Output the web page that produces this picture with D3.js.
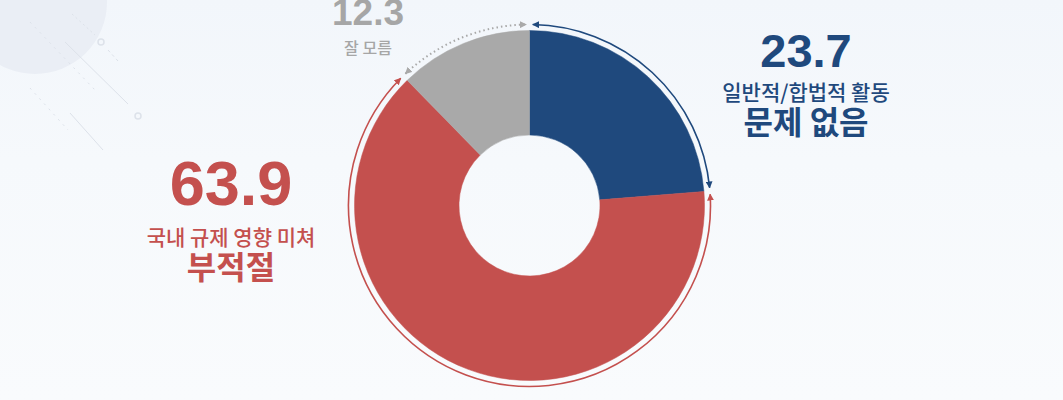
<!DOCTYPE html>
<html>
<head>
<meta charset="utf-8">
<script src="https://cdn.jsdelivr.net/npm/d3@7"></script>
<style>
  body { margin: 0; background: #f6f9fc; }
  svg { display: block; }
</style>
</head>
<body>
<svg id="chart" width="1063" height="400"></svg>
<script>
const categories = ["일반적/합법적 활동 문제 없음", "국내 규제 영향 미쳐 부적절", "잘 모름"];
const values = [23.7, 63.9, 12.3];
const colors = ["#1f497d", "#c4504e", "#a9a9a9"];

const svg = d3.select("#chart");
const width = 1063, height = 400;
const cx = 529.5, cy = 205.5;
const outerR = 175, innerR = 70.5, guideR = 181;

// background
const defs = svg.append("defs");
const bg = defs.append("linearGradient").attr("id", "bg").attr("x1", 0).attr("y1", 0).attr("x2", 0).attr("y2", 1);
bg.append("stop").attr("offset", "0%").attr("stop-color", "#f2f6fb");
bg.append("stop").attr("offset", "40%").attr("stop-color", "#f6f9fc");
bg.append("stop").attr("offset", "100%").attr("stop-color", "#f9fbfd");
svg.append("rect").attr("width", width).attr("height", height).attr("fill", "url(#bg)");

// decoration top-left
const deco = svg.append("g").attr("fill", "none").attr("stroke", "#dde2ea");
deco.append("circle").attr("cx", 35).attr("cy", 2).attr("r", 72).attr("fill", "#eaeef5").attr("stroke", "none");
deco.append("line").attr("x1", 65).attr("y1", 42).attr("x2", 128).attr("y2", 104).attr("stroke-width", 1);
deco.append("line").attr("x1", 72).attr("y1", 14).attr("x2", 95).attr("y2", 35).attr("stroke-dasharray", "2 3");
deco.append("line").attr("x1", 30).attr("y1", 22).attr("x2", 95).attr("y2", 90).attr("stroke-dasharray", "2 5");
deco.append("line").attr("x1", 108).attr("y1", 50).attr("x2", 118).attr("y2", 61).attr("stroke-dasharray", "3 3");
deco.append("line").attr("x1", 30).attr("y1", 88).attr("x2", 68).attr("y2", 130).attr("stroke-dasharray", "2 5");
deco.append("line").attr("x1", 70).attr("y1", 113).attr("x2", 103).attr("y2", 150).attr("stroke-width", 1);
deco.append("circle").attr("cx", 101).attr("cy", 42).attr("r", 3).attr("stroke-width", 1.5);
deco.append("circle").attr("cx", 138).attr("cy", 116).attr("r", 3).attr("stroke-width", 1.5);

// donut
const pie = d3.pie().sort(null).value(d => d);
const arcs = pie(values);
const arc = d3.arc().innerRadius(innerR).outerRadius(outerR);

const g = svg.append("g").attr("transform", `translate(${cx},${cy})`);
g.selectAll("path.slice")
  .data(arcs)
  .enter()
  .append("path")
  .attr("class", "slice")
  .attr("d", arc)
  .attr("fill", (d, i) => colors[i])
  .attr("stroke", (d, i) => colors[i])
  .attr("stroke-width", 0.5);

// arrow markers
colors.forEach(function (c, i) {
  defs.append("marker")
    .attr("id", "arrow" + i)
    .attr("viewBox", "0 0 10 10")
    .attr("refX", 9)
    .attr("refY", 5)
    .attr("markerWidth", 7)
    .attr("markerHeight", 7)
    .attr("markerUnits", "userSpaceOnUse")
    .attr("orient", "auto-start-reverse")
    .append("path")
    .attr("d", "M0,0L10,5L0,10Z")
    .attr("fill", c);
});

// guide arcs around the donut
const gap = 0.018;
function guidePath(d) {
  const p = d3.path();
  p.arc(0, 0, guideR, d.startAngle + gap - Math.PI / 2, d.endAngle - gap - Math.PI / 2);
  return p.toString();
}
g.selectAll("path.guide")
  .data(arcs)
  .enter()
  .append("path")
  .attr("class", "guide")
  .attr("d", guidePath)
  .attr("fill", "none")
  .attr("stroke", (d, i) => colors[i])
  .attr("stroke-width", (d, i) => i === 2 ? 2 : 1.6)
  .attr("stroke-dasharray", (d, i) => i === 2 ? "1.5 3" : null)
  .attr("marker-start", (d, i) => `url(#arrow${i})`)
  .attr("marker-end", (d, i) => `url(#arrow${i})`);

// labels
const numFont = "'Liberation Sans', Arial, 'Noto Sans CJK KR', sans-serif";
const krFont = "'Noto Sans CJK KR', 'Noto Sans', sans-serif";

const labels = [
  { x: 231, lines: [
    { t: values[1].toFixed(1), y: 205, size: 63, w: 700, f: numFont },
    { t: "국내 규제 영향 미쳐", y: 245, size: 21, w: 500, f: krFont },
    { t: "부적절", y: 279, size: 32, w: 700, f: krFont }
  ], color: colors[1] },
  { x: 806, lines: [
    { t: values[0].toFixed(1), y: 67, size: 47, w: 700, f: numFont },
    { t: "일반적/합법적 활동", y: 100, size: 21, w: 500, f: krFont },
    { t: "문제 없음", y: 134, size: 32, w: 700, f: krFont }
  ], color: colors[0] },
  { x: 368, lines: [
    { t: values[2].toFixed(1), y: 25, size: 37, w: 700, f: numFont },
    { t: "잘 모름", y: 54, size: 16, w: 500, f: krFont }
  ], color: "#a6a6a6" }
];

labels.forEach(function (l) {
  svg.append("g")
    .selectAll("text")
    .data(l.lines)
    .enter()
    .append("text")
    .attr("x", l.x)
    .attr("y", d => d.y)
    .attr("text-anchor", "middle")
    .attr("font-family", d => d.f)
    .attr("font-size", d => d.size)
    .attr("font-weight", d => d.w)
    .attr("fill", l.color)
    .text(d => d.t);
});
</script>
</body>
</html>
